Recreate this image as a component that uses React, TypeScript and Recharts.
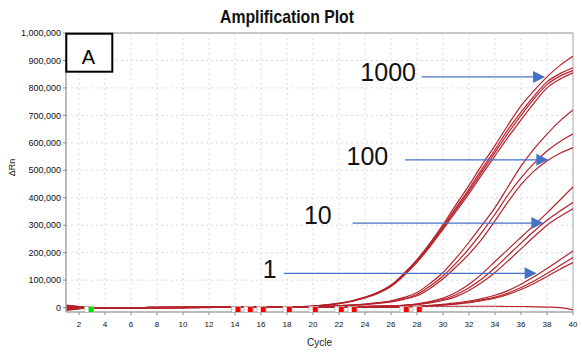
import {
  CartesianGrid,
  ComposedChart,
  Line,
  ReferenceDot,
  ReferenceLine,
  Scatter,
  XAxis,
  YAxis
} from 'recharts'

// ΔRn values in thousands, one entry per cycle 1..40
const cycles = [
  1, 2, 3, 4, 5, 6, 7, 8, 9, 10, 11, 12, 13, 14, 15, 16, 17, 18, 19, 20,
  21, 22, 23, 24, 25, 26, 27, 28, 29, 30, 31, 32, 33, 34, 35, 36, 37, 38, 39, 40
]

// 1000 copies
const a1 = [6, 3, 0, 0, 0, 0, 0, 1, 1, 1, 1, 1, 1, 1, 1, 1, 2, 2, 3, 6, 10, 16, 25, 38, 56, 82, 125, 175, 235, 302, 375, 445, 520, 590, 665, 735, 790, 840, 882, 915]
const a2 = [3, 1, 0, 0, 0, 0, 0, 1, 1, 1, 1, 1, 1, 1, 1, 1, 1, 2, 3, 5, 9, 15, 24, 37, 55, 80, 122, 172, 230, 295, 364, 432, 505, 575, 648, 712, 770, 822, 852, 873]
const a3 = [-2, -1, 0, 0, 0, 0, 0, 0, 0, 1, 1, 1, 1, 1, 1, 1, 1, 2, 3, 5, 9, 15, 24, 36, 54, 79, 120, 169, 226, 290, 357, 424, 495, 565, 635, 700, 760, 812, 843, 863]
const a4 = [-6, -3, 0, 0, 0, 0, 0, 0, 0, 0, 1, 1, 1, 1, 1, 1, 1, 2, 2, 5, 8, 14, 23, 35, 52, 77, 117, 165, 222, 285, 350, 415, 485, 553, 620, 684, 745, 800, 832, 855]
// 100 copies
const b1 = [9, 4, 0, 0, 0, 0, 0, 1, 1, 1, 1, 1, 1, 1, 1, 1, 2, 2, 2, 4, 5, 7, 10, 13, 18, 25, 37, 55, 88, 128, 180, 238, 300, 364, 440, 515, 578, 632, 680, 720]
const b2 = [4, 2, 0, 0, 0, 0, 0, 1, 1, 1, 1, 1, 1, 1, 1, 1, 1, 2, 2, 3, 4, 6, 9, 12, 17, 23, 33, 48, 78, 115, 162, 215, 275, 340, 410, 472, 525, 570, 605, 632]
const b3 = [-8, -4, 0, 0, 0, 0, 0, 0, 0, 0, 1, 1, 1, 1, 1, 1, 1, 1, 2, 3, 4, 5, 8, 11, 15, 21, 30, 43, 70, 105, 148, 195, 250, 316, 385, 448, 497, 534, 562, 583]
// 10 copies
const c1 = [7, 3, 0, 0, 0, 0, 0, 0, 1, 1, 1, 1, 1, 1, 1, 1, 1, 1, 2, 2, 3, 3, 4, 5, 6, 6, 9, 14, 22, 35, 55, 85, 123, 168, 212, 256, 300, 345, 392, 440]
const c2 = [-4, -2, 0, 0, 0, 0, 0, 0, 0, 1, 1, 1, 1, 1, 1, 1, 1, 1, 1, 2, 2, 3, 3, 4, 5, 6, 8, 12, 19, 30, 47, 72, 105, 145, 190, 235, 278, 318, 352, 383]
const c3 = [-10, -5, 0, 0, 0, 0, 0, 0, 0, 0, 0, 1, 1, 1, 1, 1, 1, 1, 1, 1, 2, 2, 3, 4, 4, 5, 7, 11, 17, 26, 40, 62, 92, 128, 170, 214, 258, 300, 332, 360]
// 1 copy
const d1 = [2, 1, 0, 0, 0, 0, 0, 0, 0, 0, 1, 1, 1, 1, 1, 1, 1, 1, 1, 1, 1, 1, 1, 1, 2, 2, 3, 5, 8, 12, 17, 24, 33, 45, 62, 85, 112, 142, 174, 206]
const d2 = [-7, -3, 0, 0, 0, 0, 0, 0, 0, 0, 0, 0, 1, 1, 1, 1, 1, 1, 1, 1, 1, 1, 1, 1, 1, 2, 3, 4, 7, 10, 14, 20, 28, 38, 53, 73, 97, 124, 153, 182]
const d3 = [5, 2, 0, 0, 0, 0, 0, 0, 0, 0, 0, 1, 1, 1, 1, 1, 1, 1, 1, 1, 1, 1, 1, 1, 1, 2, 2, 4, 6, 9, 13, 18, 25, 34, 48, 66, 88, 113, 140, 164]
// no template
const ntc = [0, 0, 0, 0, 0, 0, 0, 1, 1, 1, 1, 1, 1, 1, 1, 1, 1, 1, 1, 2, 2, 2, 3, 3, 3, 3, 4, 4, 5, 5, 5, 5, 5, 5, 4, 4, 3, 2, 0, -8]

const seriesKeys = ['a1', 'a2', 'a3', 'a4', 'b1', 'b2', 'b3', 'c1', 'c2', 'c3', 'd1', 'd2', 'd3', 'ntc']
const seriesValues = [a1, a2, a3, a4, b1, b2, b3, c1, c2, c3, d1, d2, d3, ntc]

const xTicks = [2, 4, 6, 8, 10, 12, 14, 16, 18, 20, 22, 24, 26, 28, 30, 32, 34, 36, 38, 40]
const yTicks = [0, 100, 200, 300, 400, 500, 600, 700, 800, 900, 1000]

// baseline start / end markers under the zero line
const redMarkerCycles = [14.2, 15.15, 16.15, 18.15, 20.15, 22.15, 23.15, 27.15, 28.15]
const greenMarkerCycles = [2.9]

// dilution annotations
const arrowLabels = ['1000', '100', '10', '1']
const arrowStart = [28.36, 27.08, 23.05, 17.77]
const arrowEnd = [37.85, 38.1, 37.72, 37.2]
const arrowLevel = [840, 538, 308, 125]
const labelCycle = [27.92, 25.79, 21.44, 17.21]
const labelLevel = [824, 520, 304, 107]

const rows = cycles.map((cycle, i) => {
  const row: Record<string, number> = { cycle }
  seriesKeys.forEach((key, k) => {
    row[key] = seriesValues[k][i]
  })
  return row
})

const redMarkers = redMarkerCycles.map((cycle) => ({ cycle, marker: -8.5 }))
const greenMarkers = greenMarkerCycles.map((cycle) => ({ cycle, marker: -8.5 }))

const RED = '#b5222b'
const BLUE = '#4472c4'
const FONT = '"Liberation Sans", Arial, sans-serif'

function markerShape(fill: string) {
  return (props: any) => {
    const { cx, cy } = props
    return (
      <g>
        <rect x={cx - 6} y={cy - 3.5} width={9} height={7} fill="#fff" stroke="#b0b0b0" strokeWidth={0.8} />
        <rect x={cx - 2.2} y={cy - 3} width={5} height={6} fill={fill} />
      </g>
    )
  }
}

function ArrowShape(props: any) {
  const { x1, y1, x2, y2 } = props
  return (
    <g>
      <line x1={x1} y1={y1} x2={x2 - 10} y2={y2} stroke={BLUE} strokeWidth={1.2} />
      <polygon points={`${x2},${y2} ${x2 - 12},${y2 - 6} ${x2 - 12},${y2 + 6}`} fill={BLUE} />
    </g>
  )
}

function labelShape(text: string) {
  return (props: any) => (
    <text
      x={props.cx}
      y={props.cy}
      textAnchor="end"
      fontSize={25}
      fontFamily={FONT}
      fill="#111"
    >
      {text}
    </text>
  )
}

export default function App() {
  return (
    <div style={{ position: 'absolute', left: 0, top: 0, width: 582, height: 361, background: '#fff', fontFamily: FONT }}>
      <ComposedChart
        width={582}
        height={361}
        data={rows}
        margin={{ top: 33, right: 9, bottom: 13, left: 0 }}
      >
        <CartesianGrid strokeDasharray="2 3" stroke="#dadada" />
        <XAxis
          dataKey="cycle"
          type="number"
          domain={[1, 40]}
          ticks={xTicks}
          height={36}
          tickSize={3}
          tickMargin={6}
          tick={{ fontSize: 8, fill: '#111', fontFamily: FONT }}
          axisLine={{ stroke: '#a8a8a8', strokeWidth: 1.5 }}
          tickLine={{ stroke: '#8a8a8a' }}
          allowDataOverflow
        />
        <YAxis
          type="number"
          domain={[-16, 1000]}
          ticks={yTicks}
          width={66}
          tickSize={3}
          tickMargin={2}
          tickFormatter={(v: number) => (v * 1000).toLocaleString('en-US')}
          tick={{ fontSize: 9, fill: '#111', fontFamily: FONT }}
          axisLine={{ stroke: '#a8a8a8', strokeWidth: 1.5 }}
          tickLine={{ stroke: '#8a8a8a' }}
          allowDataOverflow
        />
        <ReferenceLine y={1000} stroke="#c6c6c6" strokeWidth={2} />
        <ReferenceLine x={40} stroke="#c6c6c6" strokeWidth={1.5} />

        {seriesKeys.map((key) => (
          <Line
            key={key}
            dataKey={key}
            type="monotone"
            stroke={RED}
            strokeWidth={1.2}
            dot={false}
            activeDot={false}
            isAnimationActive={false}
          />
        ))}

        <Scatter data={redMarkers} dataKey="marker" shape={markerShape('#ff0000')} isAnimationActive={false} />
        <Scatter data={greenMarkers} dataKey="marker" shape={markerShape('#00e000')} isAnimationActive={false} />

        {arrowLabels.map((label, i) => (
          <ReferenceLine
            key={'arrow' + label}
            segment={[
              { x: arrowStart[i], y: arrowLevel[i] },
              { x: arrowEnd[i], y: arrowLevel[i] }
            ]}
            shape={ArrowShape}
          />
        ))}
        {arrowLabels.map((label, i) => (
          <ReferenceDot
            key={'label' + label}
            x={labelCycle[i]}
            y={labelLevel[i]}
            r={0}
            shape={labelShape(label)}
          />
        ))}
      </ComposedChart>

      <svg
        width={582}
        height={361}
        style={{ position: 'absolute', left: 0, top: 0, pointerEvents: 'none' }}
      >
        <text
          x={220}
          y={22.7}
          fontSize={19}
          fontWeight="bold"
          fontFamily='"Liberation Sans Narrow", "Liberation Sans", Arial, sans-serif'
          textLength={134}
          lengthAdjust="spacingAndGlyphs"
          fill="#111"
        >
          Amplification Plot
        </text>
        <text
          transform="translate(15,167.5) rotate(-90)"
          textAnchor="middle"
          fontSize={9}
          fontFamily={FONT}
          fill="#222"
        >
          ΔRn
        </text>
        <text x={319.5} y={345.5} textAnchor="middle" fontSize={10} fontFamily={FONT} fill="#222">
          Cycle
        </text>
        <rect x={66.3} y={33.7} width={46} height={38} fill="#fff" stroke="#000" strokeWidth={2} />
        <text x={88.3} y={64} textAnchor="middle" fontSize={20} fontFamily={FONT} fill="#000">
          A
        </text>
      </svg>
    </div>
  )
}
